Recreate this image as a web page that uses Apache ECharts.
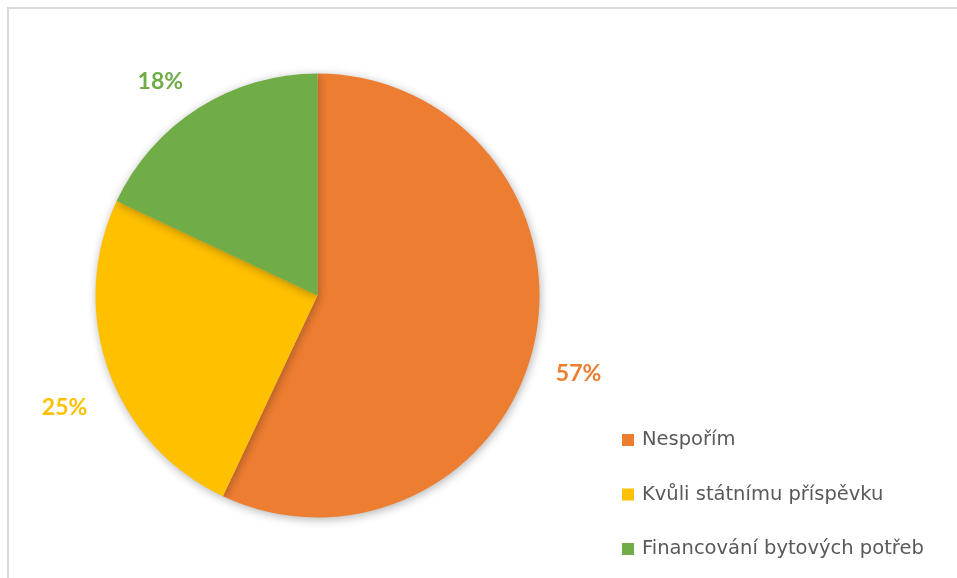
<!DOCTYPE html>
<html>
<head>
<meta charset="utf-8">
<script src="https://cdn.jsdelivr.net/npm/echarts@6/dist/echarts.min.js"></script>
<style>
html,body{margin:0;padding:0;background:#fff;}
#chart{width:957px;height:578px;}
</style>
</head>
<body>
<div id="chart"></div>
<script>
const categories = ['Nespořím', 'Kvůli státnímu příspěvku', 'Financování bytových potřeb'];
const values = [57, 25, 18];
const colors = ['#ED7D31', '#FFC000', '#70AD47'];

// label nudges (style only)
const labelNudge = [[5, 27], [-5, 33], [-4, -16]];

const chart = echarts.init(document.getElementById('chart'), null, {renderer: 'canvas'});
const option = {
  backgroundColor: '#ffffff',
  animation: false,
  graphic: [{
    type: 'rect',
    shape: {x: 8, y: 8, width: 1200, height: 1200},
    style: {fill: 'none', stroke: '#d9d9d9', lineWidth: 2},
    silent: true,
    z: -1
  }],
  legend: {
    orient: 'vertical',
    left: 622,
    top: 429,
    padding: 0,
    itemWidth: 12,
    itemHeight: 12,
    itemGap: 32.5,
    icon: 'rect',
    textStyle: {
      fontFamily: 'DejaVu Sans',
      fontSize: 19.5,
      color: '#595959',
      lineHeight: 22,
      padding: [0, 0, 0, 3]
    },
    data: categories
  },
  series: [{
    type: 'pie',
    center: [317.5, 295.5],
    radius: 222,
    startAngle: 90,
    clockwise: true,
    avoidLabelOverlap: false,
    label: {
      show: true,
      position: 'outside',
      formatter: p => p.value + '%',
      fontFamily: 'Lato',
      fontWeight: 'bold',
      fontSize: 23
    },
    labelLine: {show: false, length: 12, length2: 0},
    labelLayout: function (params) {
      const n = labelNudge[params.dataIndex];
      return {dx: n[0], dy: n[1]};
    },
    itemStyle: {
      shadowBlur: 10,
      shadowColor: 'rgba(0,0,0,0.3)',
      shadowOffsetX: 1,
      shadowOffsetY: 2
    },
    emphasis: {disabled: true},
    data: categories.map((c, i) => ({
      name: c,
      value: values[i],
      itemStyle: {color: colors[i]},
      label: {color: colors[i]}
    }))
  }]
};
chart.setOption(option);
</script>
</body>
</html>
